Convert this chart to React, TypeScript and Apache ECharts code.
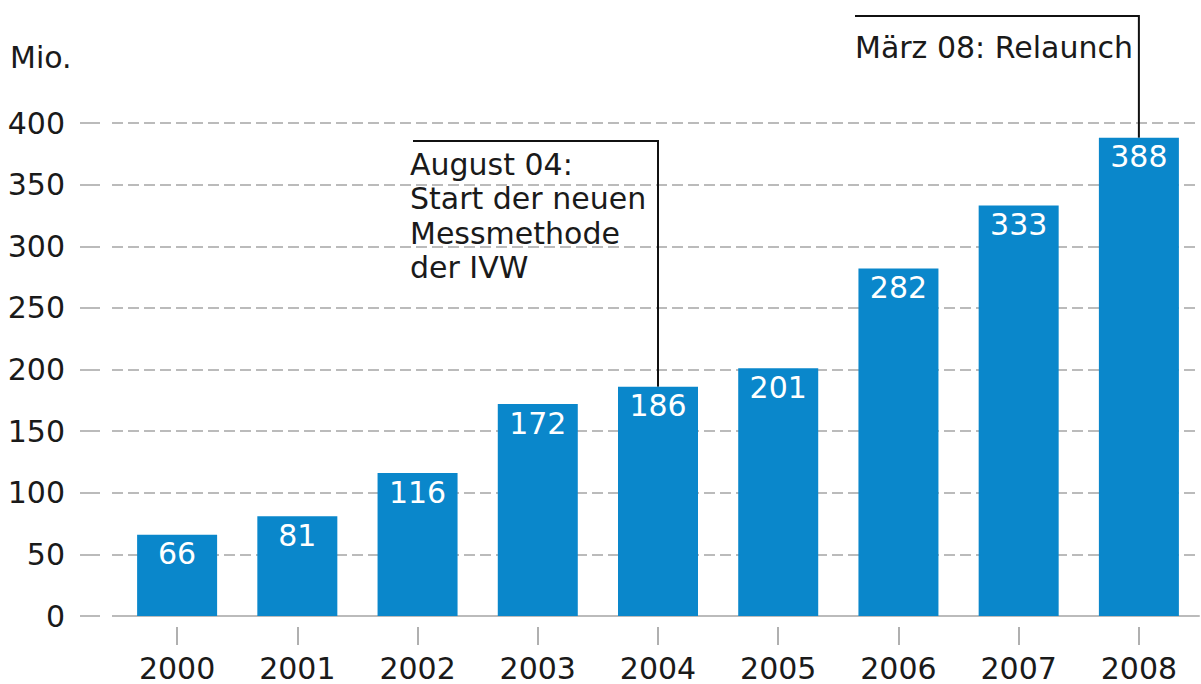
import React, { useEffect, useRef } from "react";
import * as echarts from "echarts";

const years = ["2000", "2001", "2002", "2003", "2004", "2005", "2006", "2007", "2008"];
const visits = [66, 81, 116, 172, 186, 201, 282, 333, 388];
const yTicks = { min: 0, max: 400, interval: 50 };
const unitLabel = "Mio.";
const note1Lines = ["August 04:", "Start der neuen", "Messmethode", "der IVW"];
const note1Year = "2004";
const note2Text = "März 08: Relaunch";
const note2Year = "2008";

const FONT = "'DejaVu Sans', Verdana, sans-serif";
const TEXT = "#1a1a1a";
const GRID_GRAY = "#bbbbbb";
const BAR = "#0a87cb";
const FS = 30;

function dashPattern(): number[] {
  const arr: number[] = [20, 12];
  for (let i = 0; i < 72; i++) arr.push(11, 5);
  return arr;
}

export default function App() {
  const ref = useRef<HTMLDivElement>(null);
  useEffect(() => {
    if (!ref.current) return;
    const chart = echarts.init(ref.current, undefined, { renderer: "svg" });
    const option: any = {
      animation: false,
      backgroundColor: "#ffffff",
      textStyle: { fontFamily: FONT },
      grid: [
        { left: 80, right: 1, top: 123, bottom: 68 },
        { left: 117, right: 2, top: 123, bottom: 68 },
      ],
      xAxis: [
        { gridIndex: 0, type: "value", show: false, min: 0, max: 1 },
        {
          gridIndex: 1,
          type: "category",
          data: years,
          axisLine: { show: true, lineStyle: { color: GRID_GRAY, width: 2 } },
          axisTick: { show: false },
          axisLabel: { show: false },
        },
        {
          gridIndex: 1,
          type: "category",
          data: years,
          position: "bottom",
          offset: 11,
          axisLine: { show: false },
          axisTick: { show: true, alignWithLabel: true, length: 18, lineStyle: { color: "#b0b0b0", width: 2 } },
          axisLabel: { show: true, fontSize: FS, color: TEXT, fontFamily: FONT, margin: 26 },
        },
      ],
      yAxis: [
        {
          gridIndex: 0,
          type: "value",
          min: yTicks.min,
          max: yTicks.max,
          interval: yTicks.interval,
          axisLine: { show: false },
          axisTick: { show: false },
          axisLabel: { fontSize: FS, color: TEXT, fontFamily: FONT, margin: 15 },
          splitLine: { show: true, lineStyle: { color: GRID_GRAY, width: 2, type: dashPattern() } },
        },
        {
          gridIndex: 1,
          type: "value",
          min: yTicks.min,
          max: yTicks.max,
          interval: yTicks.interval,
          show: false,
          splitLine: { show: false },
        },
      ],
      series: [
        {
          type: "bar",
          xAxisIndex: 1,
          yAxisIndex: 1,
          data: visits,
          barWidth: 80,
          itemStyle: { color: BAR },
          label: {
            show: true,
            position: "insideTop",
            distance: 4,
            color: "#ffffff",
            fontSize: FS,
            fontFamily: FONT,
          },
        },
      ],
    };
    chart.setOption(option);

    const i1 = years.indexOf(note1Year);
    const i2 = years.indexOf(note2Year);
    const p1 = chart.convertToPixel({ seriesIndex: 0 }, [i1, visits[i1]]) as number[];
    const p2 = chart.convertToPixel({ seriesIndex: 0 }, [i2, visits[i2]]) as number[];
    const lineStyle = { stroke: "#111111", lineWidth: 2 };
    chart.setOption({
      graphic: [
        {
          type: "text",
          left: 10,
          top: 42,
          style: { text: unitLabel, font: `${FS}px ${FONT}`, fill: TEXT },
        },
        {
          type: "polyline",
          shape: { points: [[413, 141], [p1[0], 141], [p1[0], p1[1]]] },
          style: { ...lineStyle, fill: null },
        },
        {
          type: "text",
          x: 410,
          y: 147,
          style: {
            text: note1Lines.join("\n"),
            font: `${FS}px ${FONT}`,
            lineHeight: 34.5,
            fill: TEXT,
            verticalAlign: "top",
          },
        },
        {
          type: "polyline",
          shape: { points: [[855, 16], [p2[0], 16], [p2[0], p2[1]]] },
          style: { ...lineStyle, fill: null },
        },
        {
          type: "text",
          x: 855,
          y: 30,
          style: { text: note2Text, font: `${FS}px ${FONT}`, fill: TEXT, verticalAlign: "top", lineHeight: 34.5 },
        },
      ],
    });
    return () => chart.dispose();
  }, []);
  return <div ref={ref} style={{ width: 1201, height: 684, position: "absolute", left: 0, top: 0 }} />;
}
